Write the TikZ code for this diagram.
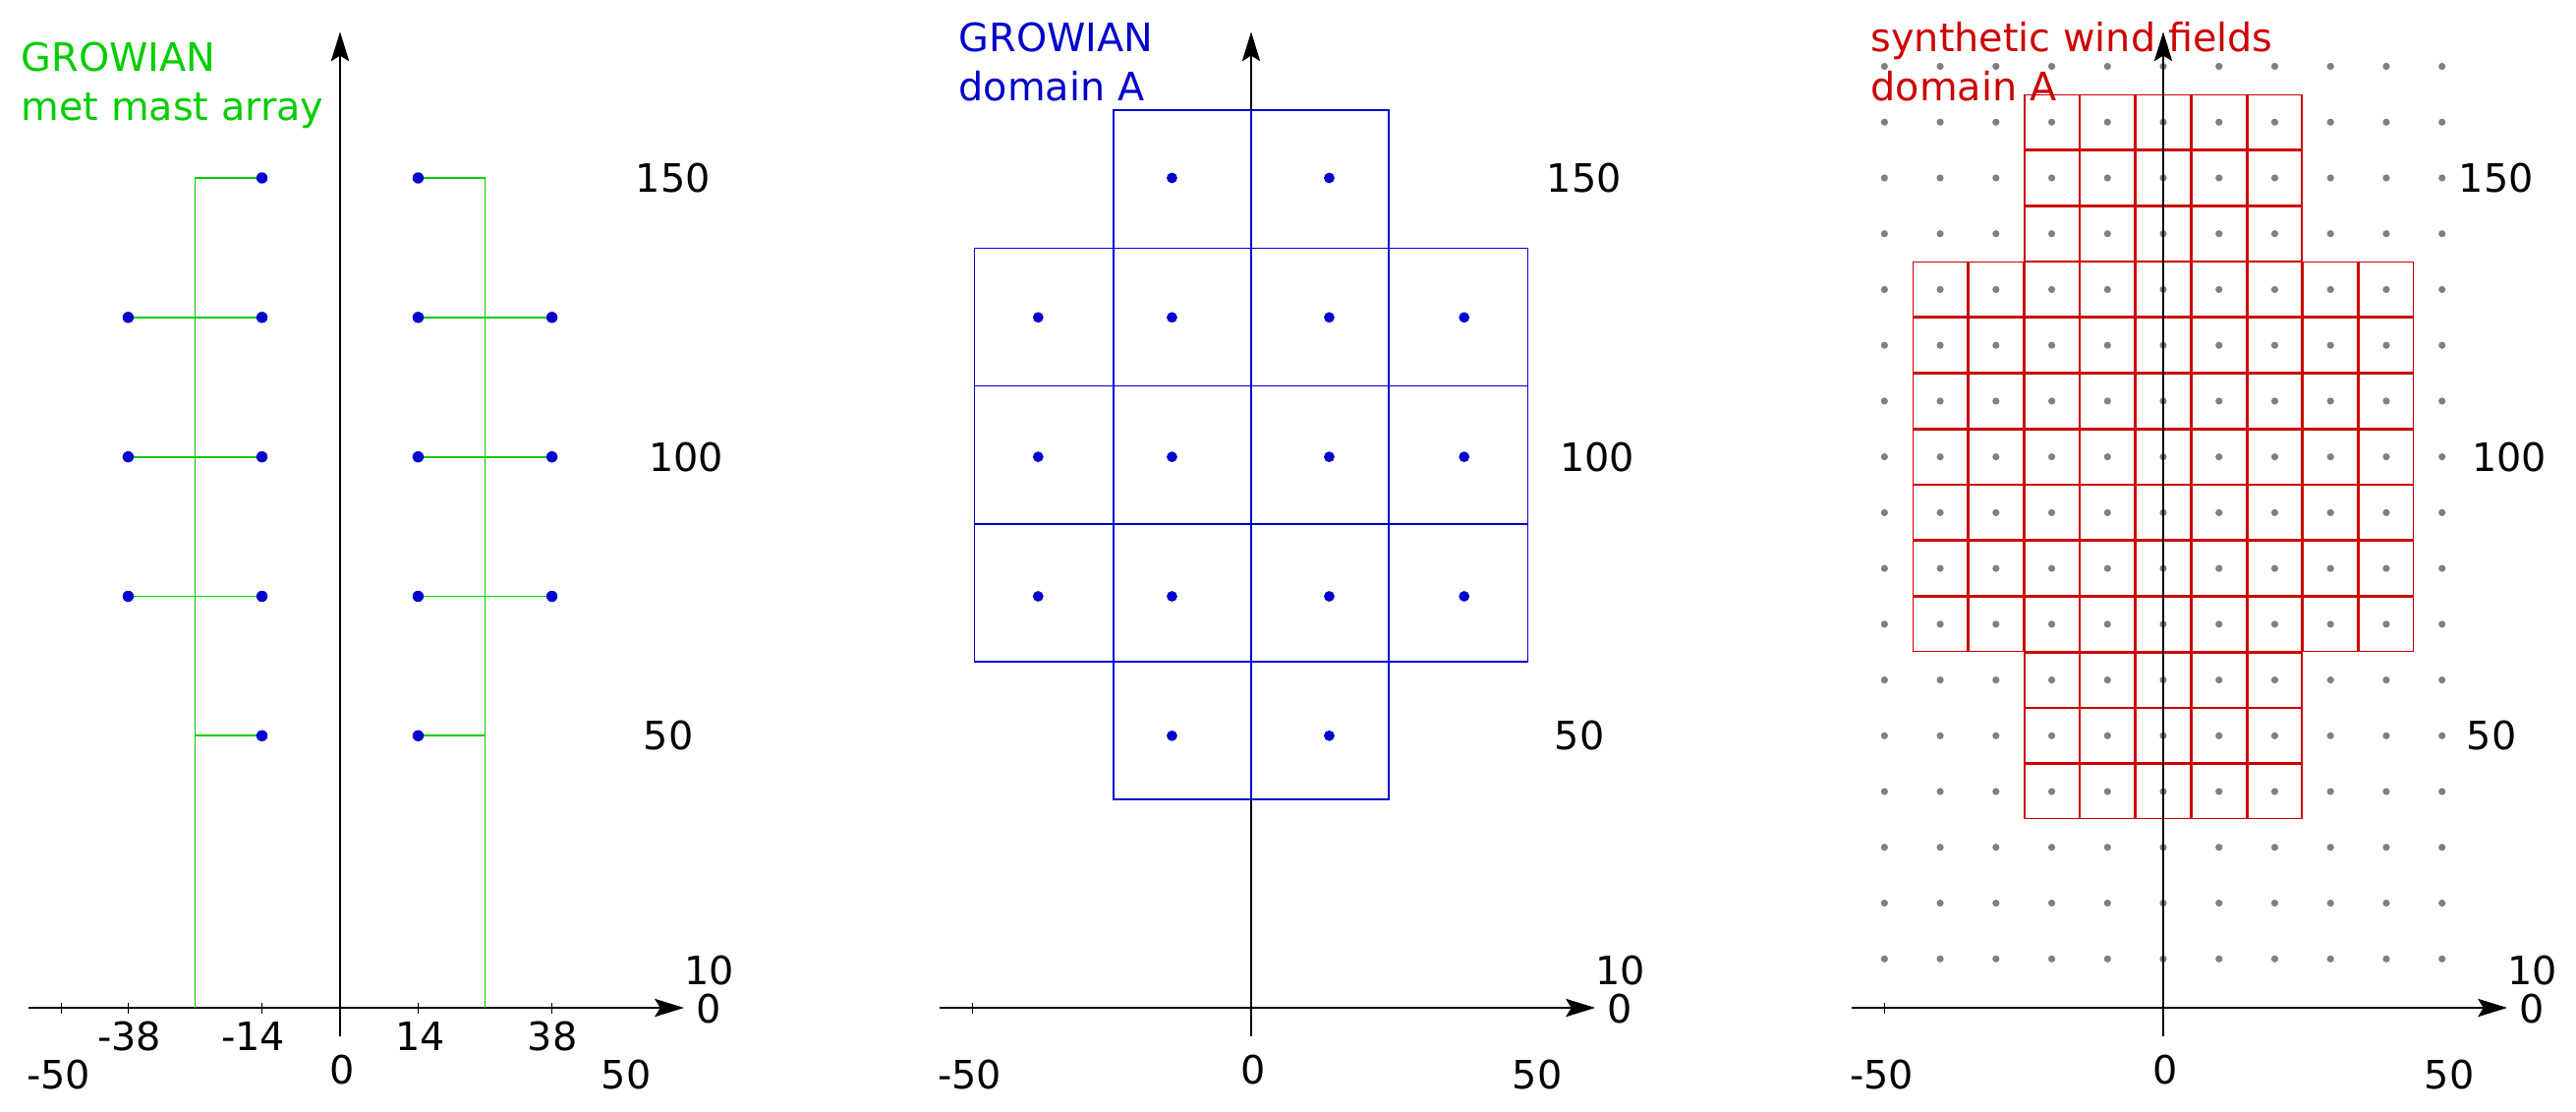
\documentclass[tikz,border=0pt]{standalone}
\usepackage{fontspec}
\setmainfont{DejaVu Sans}
\usetikzlibrary{arrows.meta}
\definecolor{mgreen}{RGB}{0,204,0}
\definecolor{mblue}{RGB}{0,0,204}
\definecolor{mred}{RGB}{204,0,0}
\definecolor{mgrey}{RGB}{128,128,128}
\begin{document}
\begin{tikzpicture}[x=0.01cm,y=-0.01cm,
  font=\fontsize{11.3}{13}\selectfont,
  axisline/.style={line width=0.55pt,black},
  axisarrow/.style={axisline,-{Stealth[length=8.5pt,width=5.2pt,inset=1.6pt]}},
  tickline/.style={line width=0.45pt,black},
  lab/.style={inner sep=0pt,anchor=center},
  ttl/.style={inner sep=0pt,anchor=base west},
  mast/.style={line width=0.5pt,mgreen},
  bluesq/.style={line width=0.5pt,mblue},
  redsq/.style={line width=0.42pt,mred},
  bdot/.style={fill=mblue},
  gdot/.style={fill=mgrey}]
\useasboundingbox (0,0) rectangle (2621,1131);

% ---------- panel 3 content (below its axes) ----------
\begin{scope}[shift={(2201,1032)}]
\begin{scope}[x=0.0567cm,y=0.0567cm]
  \foreach \r in {10,20,...,170}{
    \foreach \c in {-50,-40,...,50}{
      \fill[gdot] (\c,\r) circle[radius=0.036cm];
    }
  }
  \foreach \r in {160,150,140,60,50,40}{
    \foreach \c in {-20,-10,...,20}{
      \draw[redsq] ({\c-4.88},{\r-4.88}) rectangle ({\c+4.88},{\r+4.88});
    }
  }
  \foreach \r in {130,120,...,70}{
    \foreach \c in {-40,-30,...,40}{
      \draw[redsq] ({\c-4.88},{\r-4.88}) rectangle ({\c+4.88},{\r+4.88});
    }
  }
\end{scope}
\end{scope}

% ---------- axes and common labels ----------
\foreach \X/\i in {346/1,1273/2,2201/3}{
  \begin{scope}[shift={(\X,1032)}]
  \begin{scope}[x=0.0567cm,y=0.0567cm]
    \coordinate (xs\i) at (-55.9,1.23);
    \coordinate (xe\i) at (61.7,1.23);
    \coordinate (ys\i) at (0,-3.9);
    \coordinate (ye\i) at (0,176.2);
    \coordinate (ta\i) at (-50,2.2);
    \coordinate (tb\i) at (-50,0.26);
    \draw[axisarrow] (xs\i) -- (xe\i);
    \draw[axisarrow] (ys\i) -- (ye\i);
    \draw[tickline] (ta\i) -- (tb\i);
    \node[lab] (l150\i) at (59.7,150) {150};
    \node[lab] (l100\i) at (62.1,100) {100};
    \node[lab] (l50\i) at (58.9,50) {50};
    \node[lab] (l10\i) at (66.2,7.9) {10};
    \node[lab] (l0\i) at (66.1,1.1) {0};
    \node[lab] (bm50\i) at (-50.5,-10.76) {-50};
    \node[lab] (b0\i) at (0.35,-9.9) {0};
    \node[lab] (b50\i) at (51.3,-10.76) {50};
  \end{scope}
  \end{scope}
}

% ---------- panel 1: met mast array ----------
\begin{scope}[shift={(346,1032)}]
\begin{scope}[x=0.0567cm,y=0.0567cm]
  \foreach \t in {-38,-14,14,38}{
    \draw[tickline] (\t,2.2) -- (\t,0.26);
  }
  \node[lab] (bm38) at (-37.8,-3.9) {-38};
  \node[lab] (bm14) at (-15.6,-3.9) {-14};
  \node[lab] (bp14) at (14.4,-3.9) {14};
  \node[lab] (bp38) at (38.1,-3.9) {38};
  \foreach \s in {-1,1}{
    \draw[mast] ({14*\s},150) -- ({26*\s},150) -- ({26*\s},1.23);
    \draw[mast] ({14*\s},50) -- ({26*\s},50);
    \foreach \h in {125,100,75}{
      \draw[mast] ({14*\s},\h) -- ({38*\s},\h);
    }
  }
  \foreach \h in {150,125,100,75,50}{
    \fill[bdot] (-14,\h) circle[radius=0.057cm];
    \fill[bdot] (14,\h) circle[radius=0.057cm];
  }
  \foreach \h in {125,100,75}{
    \fill[bdot] (-38,\h) circle[radius=0.057cm];
    \fill[bdot] (38,\h) circle[radius=0.057cm];
  }
\end{scope}
\end{scope}

% ---------- panel 2: GROWIAN domain A ----------
\begin{scope}[shift={(1273,1032)}]
\begin{scope}[x=0.0567cm,y=0.0567cm]
  \foreach \ya/\yb in {137.4/162.2,38.6/63.3}{
    \draw[bluesq] (-24.7,\ya) rectangle (0,\yb);
    \draw[bluesq] (0,\ya) rectangle (24.7,\yb);
  }
  \foreach \ya/\yb in {112.7/137.4,88.0/112.7,63.3/88.0}{
    \draw[bluesq] (-49.6,\ya) rectangle (-24.7,\yb);
    \draw[bluesq] (-24.7,\ya) rectangle (0,\yb);
    \draw[bluesq] (0,\ya) rectangle (24.7,\yb);
    \draw[bluesq] (24.7,\ya) rectangle (49.6,\yb);
  }
  \foreach \h in {150,125,100,75,50}{
    \fill[bdot] (-14.2,\h) circle[radius=0.054cm];
    \fill[bdot] (14,\h) circle[radius=0.054cm];
  }
  \foreach \h in {125,100,75}{
    \fill[bdot] (-38.2,\h) circle[radius=0.054cm];
    \fill[bdot] (38.2,\h) circle[radius=0.054cm];
  }
\end{scope}
\end{scope}

% ---------- titles ----------
\node[ttl,text=mgreen] (t1a) at (21,73) {GROWIAN};
\node[ttl,text=mgreen] (t1b) at (21,123) {met mast array};
\node[ttl,text=mblue] (t2a) at (975,53) {GROWIAN};
\node[ttl,text=mblue] (t2b) at (975,103) {domain A};
\node[ttl,text=mred] (t3a) at (1903,53) {synthetic wind fields};
\node[ttl,text=mred] (t3b) at (1903,103) {domain A};
\end{tikzpicture}
\end{document}
